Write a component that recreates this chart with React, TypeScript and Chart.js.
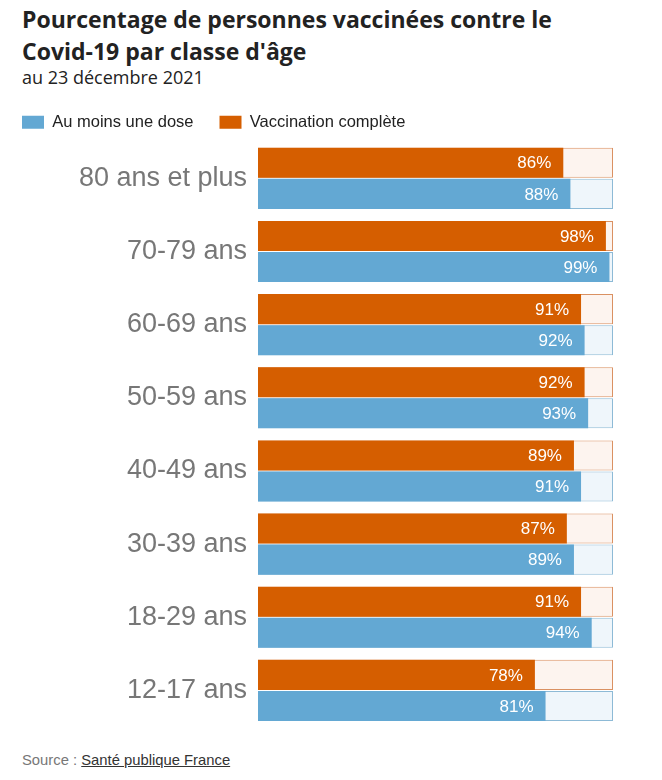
import React, { useEffect, useRef } from "react";
import { Chart, registerables } from "chart.js";

Chart.register(...registerables);

const categories = [
  "80 ans et plus",
  "70-79 ans",
  "60-69 ans",
  "50-59 ans",
  "40-49 ans",
  "30-39 ans",
  "18-29 ans",
  "12-17 ans",
];
const complete = [86, 98, 91, 92, 89, 87, 91, 78];
const oneDose = [88, 99, 92, 93, 91, 89, 94, 81];
const fullScale = [100, 100, 100, 100, 100, 100, 100, 100];

const ORANGE = "#d55e00";
const BLUE = "#63a8d3";

const valueLabels = {
  id: "valueLabels",
  afterDatasetsDraw(chart: any) {
    const ctx = chart.ctx;
    ctx.save();
    ctx.font = "17px 'Liberation Sans', Arial, sans-serif";
    ctx.fillStyle = "#ffffff";
    ctx.textAlign = "right";
    ctx.textBaseline = "middle";
    chart.data.datasets.forEach((ds: any, i: number) => {
      if (!ds.isValue) return;
      const meta = chart.getDatasetMeta(i);
      meta.data.forEach((el: any, j: number) => {
        ctx.fillText(ds.data[j] + "%", el.x - 12, el.y + 1);
      });
    });
    ctx.restore();
  },
};

export default function App() {
  const ref = useRef<HTMLCanvasElement | null>(null);

  useEffect(() => {
    if (!ref.current) return;
    const chart = new Chart(ref.current, {
      type: "bar",
      data: {
        labels: categories,
        datasets: [
          {
            label: "Vaccination complète",
            data: complete,
            backgroundColor: ORANGE,
            borderWidth: 0,
            stack: "a",
            order: 1,
            isValue: true,
          } as any,
          {
            label: "bgA",
            data: fullScale,
            backgroundColor: "#fdf4ef",
            borderColor: "#da9162",
            borderWidth: 1,
            stack: "a",
            order: 2,
          },
          {
            label: "Au moins une dose",
            data: oneDose,
            backgroundColor: BLUE,
            borderColor: "#5b9fca",
            borderWidth: 0,
            stack: "b",
            order: 1,
            isValue: true,
          } as any,
          {
            label: "bgB",
            data: fullScale,
            backgroundColor: "#eff6fb",
            borderColor: "#8dbad6",
            borderWidth: 1,
            stack: "b",
            order: 2,
          },
        ],
      },
      options: {
        indexAxis: "y",
        animation: false,
        responsive: false,
        maintainAspectRatio: false,
        categoryPercentage: 0.849,
        barPercentage: 0.968,
        layout: { padding: { left: 0, right: 49, top: 0, bottom: 0 } },
        plugins: {
          tooltip: { enabled: false },
          title: { display: false },
          legend: {
            display: true,
            position: "top",
            align: "start",
            labels: {
              boxWidth: 22,
              boxHeight: 13,
              padding: 26,
              color: "#222",
              font: { family: "'Liberation Sans', Arial, sans-serif", size: 16.5 },
              filter: (item: any) => !item.text.startsWith("bg"),
              sort: (a: any, b: any) => b.datasetIndex - a.datasetIndex,
            },
          },
        },
        scales: {
          x: {
            position: "top",
            min: 0,
            max: 100,
            stacked: false,
            grid: { display: false, drawTicks: false },
            border: { display: false },
            ticks: { display: false },
            afterFit: (s: any) => {
              s.height = 1.25;
              s.paddingLeft = 0;
              s.paddingRight = 0;
            },
          },
          y: {
            grid: { display: false, drawTicks: false },
            border: { display: false },
            ticks: {
              padding: 11,
              color: "#777",
              font: { family: "'Liberation Sans', Arial, sans-serif", size: 27 },
            },
            afterFit: (s: any) => {
              s.width = 262;
              s.paddingTop = 0;
              s.paddingBottom = 0;
            },
          },
        },
      } as any,
      plugins: [valueLabels],
    });
    return () => chart.destroy();
  }, []);

  return (
    <div style={{ position: "absolute", left: 0, top: 0, width: 662, height: 780, background: "#fff", overflow: "hidden" }}>
      <div
        style={{
          position: "absolute",
          left: 22,
          top: 2.5,
          width: 640,
          fontFamily: "'Open Sans', Lato, sans-serif",
          fontWeight: 700,
          fontSize: 23,
          lineHeight: "32px",
          color: "#222",
          whiteSpace: "nowrap",
        }}
      >
        Pourcentage de personnes vaccinées contre le
        <br />
        Covid-19 par classe d'âge
      </div>
      <div
        style={{
          position: "absolute",
          left: 22,
          top: 65.5,
          fontFamily: "'Open Sans', Lato, sans-serif",
          fontSize: 18,
          lineHeight: "22px",
          color: "#222",
          whiteSpace: "nowrap",
        }}
      >
        au 23 décembre 2021
      </div>
      <canvas
        ref={ref}
        width={666}
        height={639}
        style={{ position: "absolute", left: -4, top: 88, width: 666, height: 639 }}
      />
      <div
        style={{
          position: "absolute",
          left: 22,
          top: 751,
          fontFamily: "'Liberation Sans', Arial, sans-serif",
          fontSize: 14.8,
          lineHeight: "18px",
          color: "#777",
          whiteSpace: "nowrap",
        }}
      >
        Source :{" "}
        <span style={{ color: "#333", textDecoration: "underline" }}>Santé publique France</span>
      </div>
    </div>
  );
}
